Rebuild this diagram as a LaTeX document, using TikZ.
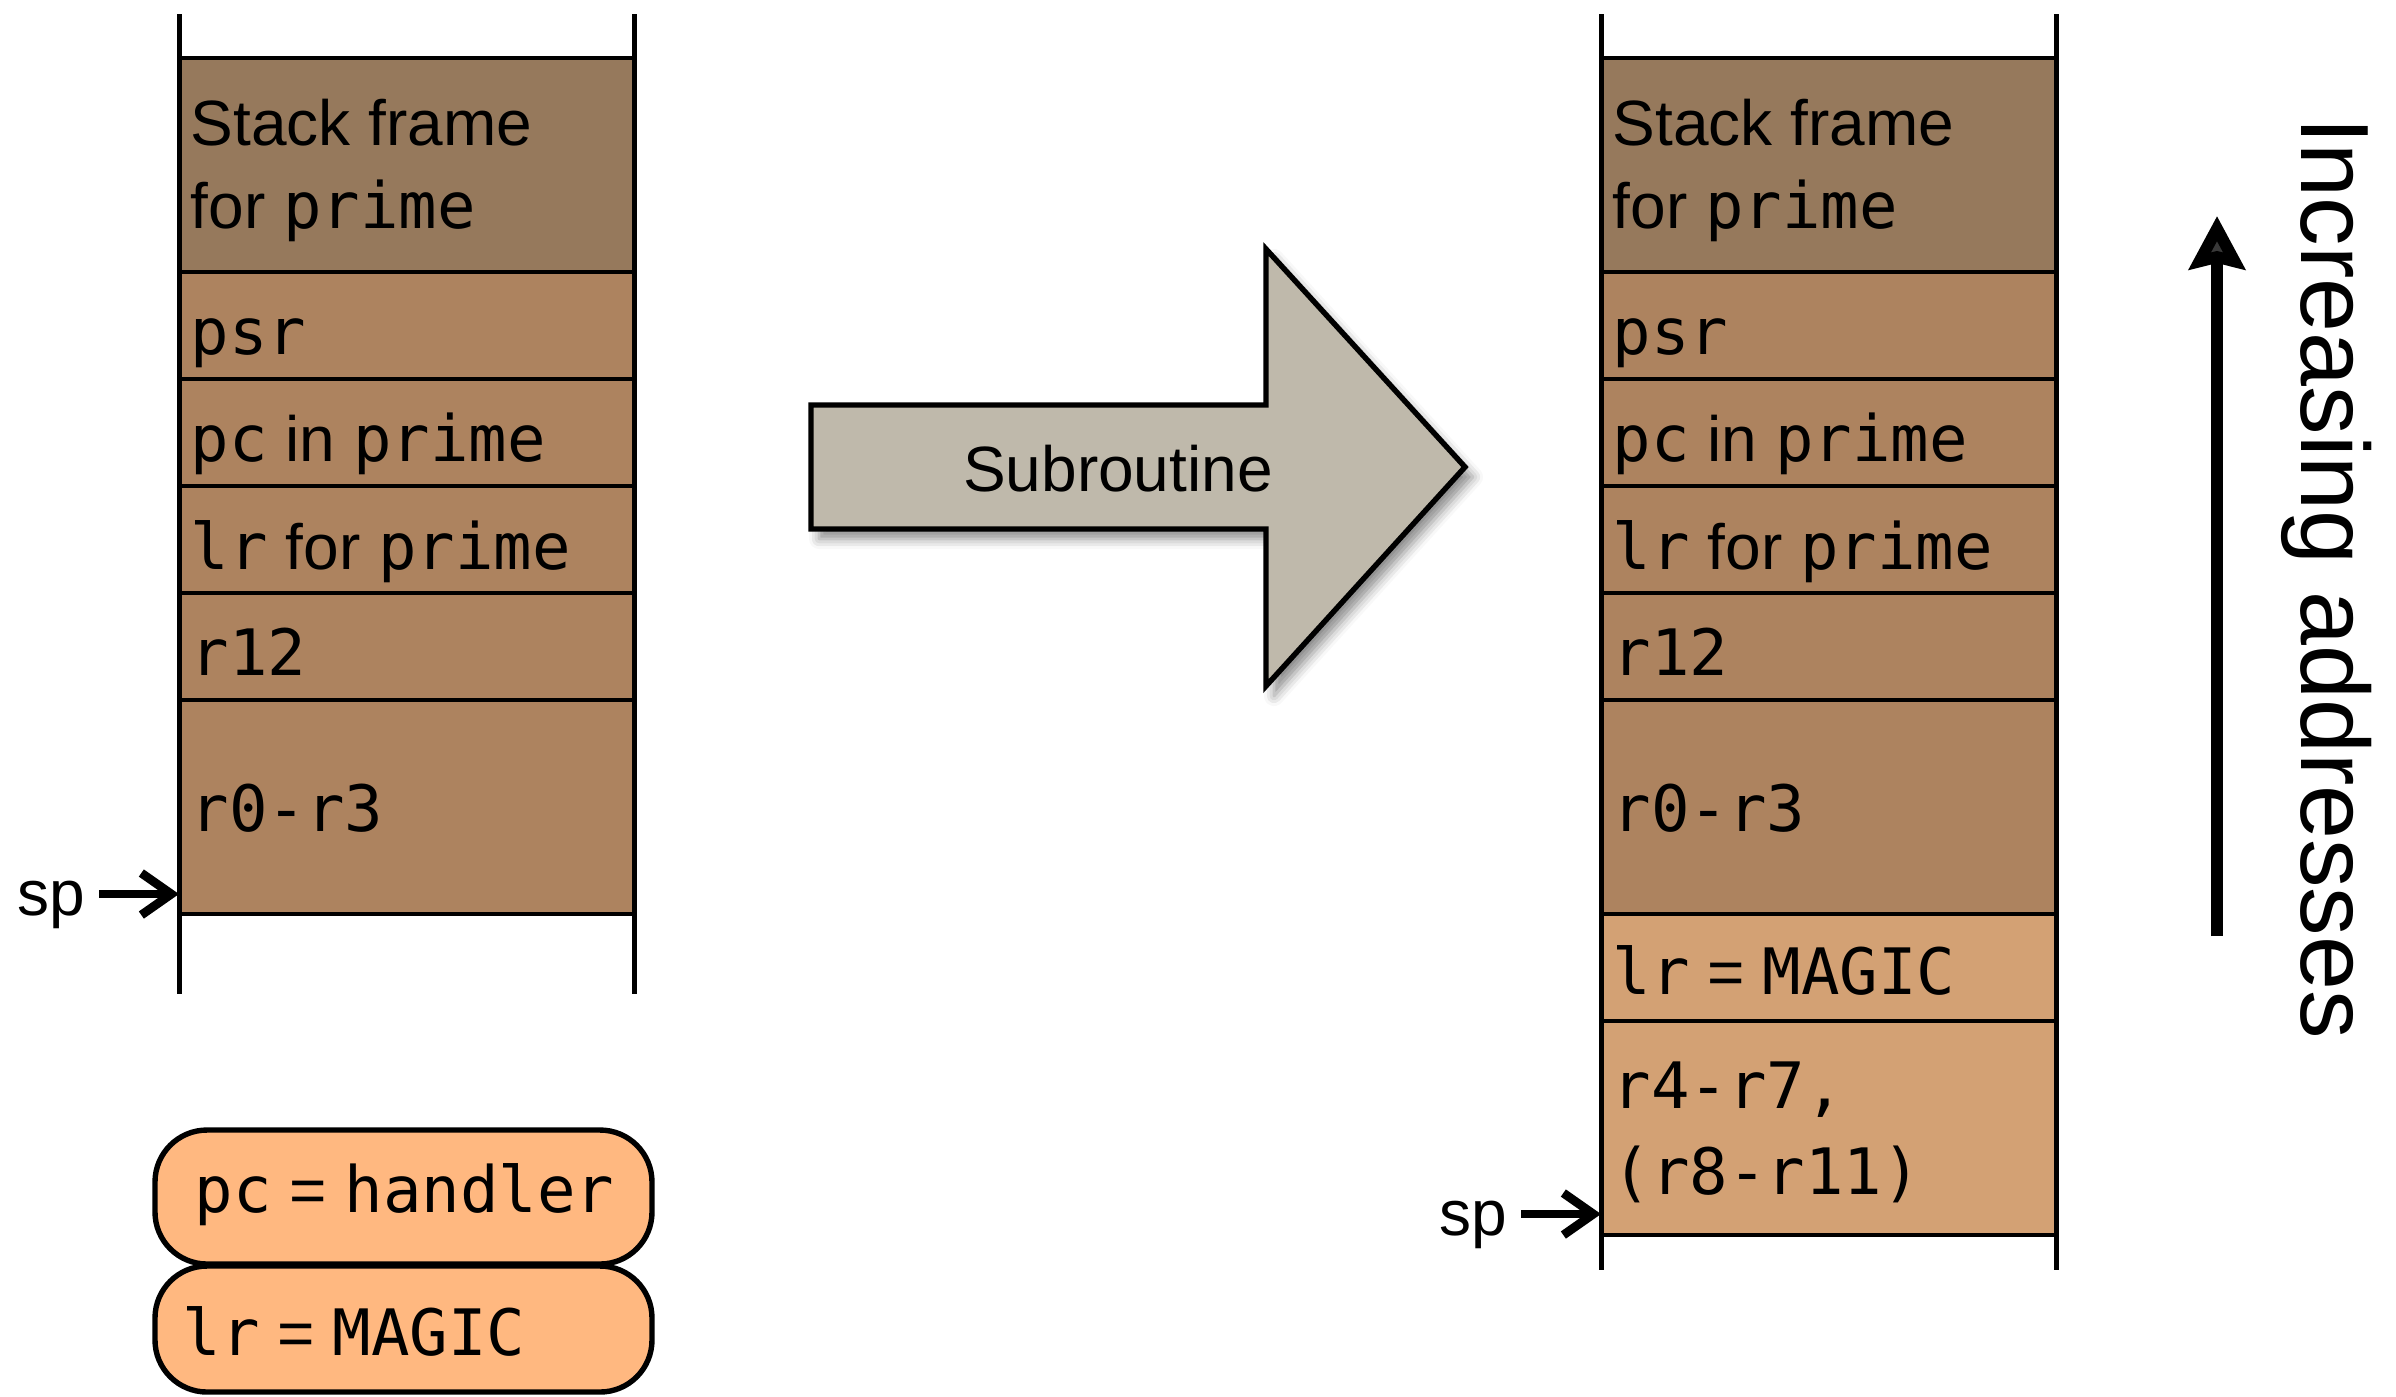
\documentclass[tikz,border=0pt]{standalone}
\usepackage{fontspec}
\setmainfont{Liberation Sans}
\newfontfamily\monofont{DejaVu Sans Mono}
\newcommand{\mo}[1]{{\monofont #1}}
\usetikzlibrary{arrows.meta,shadows.blur}
\definecolor{sfcol}{HTML}{96795C}
\definecolor{midcol}{HTML}{AD835F}
\definecolor{lightcol}{HTML}{D3A174}
\definecolor{ovalcol}{HTML}{FFB880}
\definecolor{arrcol}{HTML}{BFB9AB}
\tikzset{
  cell/.style={draw=black, line width=1.1pt, inner sep=0pt, outer sep=0pt,
    minimum width=113.75pt, anchor=north west},
  single/.style={minimum height=26.75pt},
  double/.style={minimum height=53.5pt},
  lbl/.style={inner sep=0pt, anchor=base west, font=\fontsize{16pt}{20pt}\selectfont},
  side/.style={line width=1.25pt},
  oval/.style={draw=black, fill=ovalcol, line width=1.35pt, rounded corners=13pt,
    minimum width=124.25pt, inner sep=0pt, outer sep=0pt, anchor=north west},
  sparrow/.style={line width=2.2pt, -{Straight Barb[length=7.5pt,width=10.5pt]}},
  addrarrow/.style={line width=3.15pt, -{Stealth[length=13.25pt,width=13.75pt,inset=1.5pt]}},
  subarrow/.style={draw=black, fill=arrcol, line width=1.35pt, line join=miter,
    blur shadow={shadow xshift=2pt, shadow yshift=-2.5pt, shadow blur radius=2.5pt, shadow opacity=45}}
}
\begin{document}
\begin{tikzpicture}[x=0.25pt,y=-0.25pt]
\useasboundingbox (0,0) rectangle (2396,1396);

% ---------- left stack ----------
\node[cell,double,fill=sfcol] (cL1) at (179,58) {};
\node[cell,single,fill=midcol] (cL2) at (179,272) {};
\node[cell,single,fill=midcol] (cL3) at (179,379) {};
\node[cell,single,fill=midcol] (cL4) at (179,486) {};
\node[cell,single,fill=midcol] (cL5) at (179,593) {};
\node[cell,double,fill=midcol] (cL6) at (179,700) {};
\draw[side] (179,14) -- (179,994);
\draw[side] (634,14) -- (634,994);

\node[lbl] (tL1a) at (190,145) {Stack frame};
\node[lbl] (tL1b) at (190,228) {for \mo{prime}};
\node[lbl] (tL2) at (190,354) {\mo{psr}};
\node[lbl] (tL3) at (190,461) {\mo{pc} in \mo{prime}};
\node[lbl] (tL4) at (190,569) {\mo{lr} for \mo{prime}};
\node[lbl] (tL5) at (190,675) {\mo{r12}};
\node[lbl] (tL6) at (190,831) {\mo{r0-r3}};

\node[lbl] (spL) at (17,915) {sp};
\coordinate (spLa) at (99,894);
\draw[sparrow] (spLa) -- (spLa -| cL6.west);

% ---------- ovals ----------
\node[oval, minimum height=33.5pt] (oPC) at (155,1130) {};
\node[oval, minimum height=31.5pt] (oLR) at (155,1266) {};
\node[lbl] (tPC) at (194,1212) {\mo{pc} = \mo{handler}};
\node[lbl] (tLR) at (182,1355) {\mo{lr} = \mo{MAGIC}};

% ---------- subroutine arrow ----------
\draw[subarrow] (811,405) -- (1266,405) -- (1266,249) -- (1465,467) -- (1266,686) -- (1266,529) -- (811,529) -- cycle;
\node[lbl, anchor=base] (sub) at (1118,491) {Subroutine};

% ---------- right stack ----------
\node[cell,double,fill=sfcol] (cR1) at (1601,58) {};
\node[cell,single,fill=midcol] (cR2) at (1601,272) {};
\node[cell,single,fill=midcol] (cR3) at (1601,379) {};
\node[cell,single,fill=midcol] (cR4) at (1601,486) {};
\node[cell,single,fill=midcol] (cR5) at (1601,593) {};
\node[cell,double,fill=midcol] (cR6) at (1601,700) {};
\node[cell,single,fill=lightcol] (cR7) at (1601,914) {};
\node[cell,double,fill=lightcol] (cR8) at (1601,1021) {};
\draw[side] (1601,14) -- (1601,1270);
\draw[side] (2056,14) -- (2056,1270);

\node[lbl] (tR1a) at (1612,145) {Stack frame};
\node[lbl] (tR1b) at (1612,228) {for \mo{prime}};
\node[lbl] (tR2) at (1612,354) {\mo{psr}};
\node[lbl] (tR3) at (1612,461) {\mo{pc} in \mo{prime}};
\node[lbl] (tR4) at (1612,569) {\mo{lr} for \mo{prime}};
\node[lbl] (tR5) at (1612,675) {\mo{r12}};
\node[lbl] (tR6) at (1612,831) {\mo{r0-r3}};
\node[lbl] (tR7) at (1612,994) {\mo{lr} = \mo{MAGIC}};
\node[lbl] (tR8a) at (1612,1108) {\mo{r4-r7,}};
\node[lbl] (tR8b) at (1612,1194) {\mo{(r8-r11)}};

\node[lbl] (spR) at (1439,1235) {sp};
\coordinate (spRa) at (1521,1214);
\draw[sparrow] (spRa) -- (spRa -| cR8.west);

% ---------- increasing addresses ----------
\coordinate (aB) at (2217,936);
\coordinate (aT) at (2217,216);
\draw[addrarrow] (aB) -- (aT);
\node[inner sep=0pt, anchor=base, rotate=-90, font=\fontsize{24.25pt}{28pt}\selectfont] (incr) at (2301,578) {Increasing addresses};
\end{tikzpicture}
\end{document}
